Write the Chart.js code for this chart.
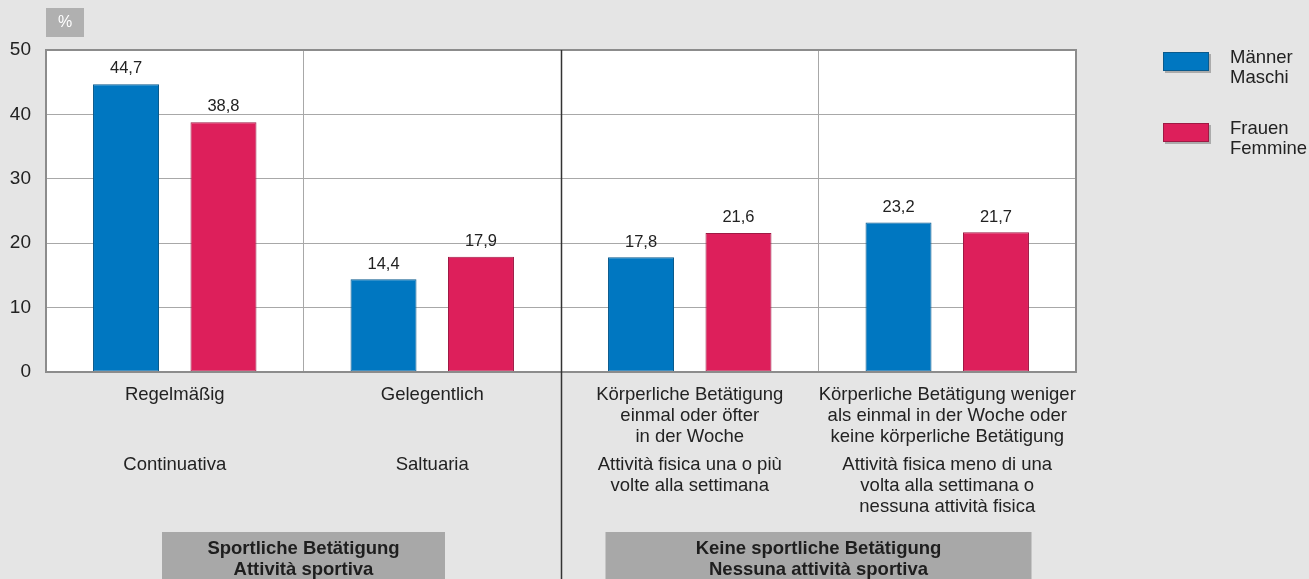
<!DOCTYPE html>
<html>
<head>
<meta charset="utf-8">
<script src="https://cdn.jsdelivr.net/npm/chart.js@4/dist/chart.umd.min.js"></script>
<style>
html,body{margin:0;padding:0;background:#e5e5e5;}
#wrap{width:1309px;height:579px;position:relative;}
</style>
</head>
<body>
<div id="wrap"><canvas id="c" width="1309" height="579"></canvas></div>
<script>
const categoriesDE = [
  ["Regelmäßig"],
  ["Gelegentlich"],
  ["Körperliche Betätigung","einmal oder öfter","in der Woche"],
  ["Körperliche Betätigung weniger","als einmal in der Woche oder","keine körperliche Betätigung"]
];
const categoriesIT = [
  ["Continuativa"],
  ["Saltuaria"],
  ["Attività fisica una o più","volte alla settimana"],
  ["Attività fisica meno di una","volta alla settimana o","nessuna attività fisica"]
];
const seriesNames = [["Männer","Maschi"],["Frauen","Femmine"]];
const maenner = [44.7, 14.4, 17.8, 23.2];
const frauen = [38.8, 17.9, 21.6, 21.7];
const groupLabels = [
  ["Sportliche Betätigung","Attività sportiva"],
  ["Keine sportliche Betätigung","Nessuna attività sportiva"]
];
const yTicks = [0,10,20,30,40,50];

const FONT = "'Liberation Sans', Arial, sans-serif";
const BLUE = '#0077c1', RED = '#dd1f5b';

const decor = {
  id:'decor',
  beforeDraw(chart){
    const {ctx, chartArea:a} = chart;
    ctx.save();
    ctx.fillStyle = '#e5e5e5';
    ctx.fillRect(0,0,chart.width,chart.height);
    ctx.fillStyle = '#ffffff';
    ctx.fillRect(a.left,a.top,a.right-a.left,a.bottom-a.top);
    // % box
    ctx.fillStyle = '#b0b0b0';
    ctx.fillRect(46,8,38,29);
    ctx.fillStyle = '#ffffff';
    ctx.font = '16px '+FONT;
    ctx.textAlign='center'; ctx.textBaseline='middle';
    ctx.fillText('%',65,23);
    ctx.restore();
  },
  afterDraw(chart){
    const {ctx, chartArea:a, scales:{x}} = chart;
    ctx.save();
    // border
    ctx.strokeStyle = '#8c8c8c';
    ctx.lineWidth = 2;
    ctx.strokeRect(a.left,a.top,a.right-a.left,a.bottom-a.top);
    // central divider
    const mid = Math.round((x.getPixelForValue(1)+x.getPixelForValue(2))/2)+0.5;
    ctx.strokeStyle = '#333333';
    ctx.lineWidth = 1.5;
    ctx.beginPath(); ctx.moveTo(mid,a.top); ctx.lineTo(mid,chart.height); ctx.stroke();
    // category labels
    ctx.fillStyle = '#222222';
    ctx.font = '18.5px '+FONT;
    ctx.textAlign='center'; ctx.textBaseline='middle';
    categoriesDE.forEach((lines,i)=>{
      const cx = x.getPixelForValue(i);
      lines.forEach((t,j)=>ctx.fillText(t,cx,a.bottom+23+j*21));
    });
    categoriesIT.forEach((lines,i)=>{
      const cx = x.getPixelForValue(i);
      lines.forEach((t,j)=>ctx.fillText(t,cx,a.bottom+93+j*21));
    });
    // group boxes
    const b1c = (x.getPixelForValue(0)+x.getPixelForValue(1))/2;
    const b2c = (x.getPixelForValue(2)+x.getPixelForValue(3))/2;
    const boxes = [[b1c,283],[b2c,426]];
    boxes.forEach(([c,bw],i)=>{
      ctx.fillStyle = '#a8a8a8';
      ctx.fillRect(c-bw/2,532,bw,chart.height-532);
      ctx.fillStyle = '#1e1e1e';
      ctx.font = 'bold 18.5px '+FONT;
      ctx.fillText(groupLabels[i][0],c,549);
      ctx.fillText(groupLabels[i][1],c,570);
    });
    // legend
    chart.data.datasets.forEach((ds,i)=>{
      const y0 = 52 + i*71;
      ctx.fillStyle = 'rgba(0,0,0,0.25)';
      ctx.fillRect(1165,y0+2,46,19);
      ctx.fillStyle = ds.backgroundColor;
      ctx.fillRect(1163,y0,46,19);
      ctx.strokeStyle = ds.borderColor; ctx.lineWidth=1;
      ctx.strokeRect(1163.5,y0+0.5,45,18);
      ctx.fillStyle = '#222222';
      ctx.font = '18.5px '+FONT;
      ctx.textAlign='left';
      ctx.fillText(seriesNames[i][0],1230,y0+6);
      ctx.fillText(seriesNames[i][1],1230,y0+26);
      ctx.textAlign='center';
    });
    // value labels
    ctx.fillStyle = '#222222';
    ctx.font = '16.5px '+FONT;
    ctx.textBaseline='bottom';
    chart.data.datasets.forEach((ds,i)=>{
      chart.getDatasetMeta(i).data.forEach((bar,j)=>{
        ctx.fillText(ds.data[j].toFixed(1).replace('.',','),bar.x,bar.y-7);
      });
    });
    ctx.restore();
  }
};

new Chart(document.getElementById('c'),{
  type:'bar',
  data:{
    labels: categoriesDE.map(l=>l.join(' ')),
    datasets:[
      {label:seriesNames[0].join(' / '),data:maenner,backgroundColor:BLUE,borderColor:'#0a5a8c',borderWidth:1,borderSkipped:false},
      {label:seriesNames[1].join(' / '),data:frauen,backgroundColor:RED,borderColor:'#9e1a44',borderWidth:1,borderSkipped:false}
    ]
  },
  options:{
    responsive:false,
    animation:false,
    devicePixelRatio:1,
    categoryPercentage:0.757,
    barPercentage:0.677,
    layout:{padding:{top:50,right:233,left:0,bottom:0}},
    plugins:{legend:{display:false},tooltip:{enabled:false}},
    scales:{
      x:{
        grid:{offset:true,color:(c)=> (c.index===2? 'rgba(0,0,0,0)':'#a8a8a8'),drawTicks:false,lineWidth:1},
        border:{display:false},
        ticks:{display:false},
        afterFit(s){s.height=207;}
      },
      y:{
        min:0,max:50,
        afterBuildTicks(s){s.ticks=yTicks.map(v=>({value:v}));},
        grid:{color:'#a8a8a8',drawTicks:false,lineWidth:1},
        border:{display:false},
        ticks:{color:'#222222',font:{family:FONT,size:19},padding:15},
        afterFit(s){s.width=46;}
      }
    }
  },
  plugins:[decor]
});
</script>
</body>
</html>
